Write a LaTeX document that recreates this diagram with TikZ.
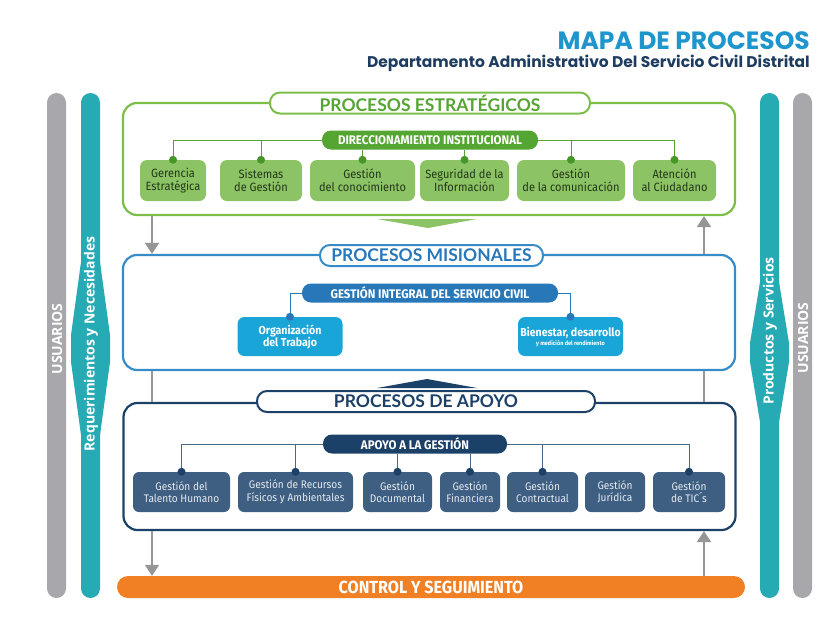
\documentclass[tikz,border=0pt]{standalone}
\usepackage{fontspec}
\setmainfont{Lato}
\newfontfamily\titlefont{Poppins}
\newfontfamily\condfont{Fira Sans}[FakeStretch=0.92]
\newfontfamily\sidefont{Open Sans}
\usetikzlibrary{positioning,arrows.meta}

\definecolor{titleblue}{RGB}{30,150,205}
\definecolor{titlenavy}{RGB}{30,60,95}
\definecolor{estline}{RGB}{125,190,75}
\definecolor{estdark}{RGB}{85,165,50}
\definecolor{estdot}{RGB}{70,150,40}
\definecolor{estfill}{RGB}{140,195,100}
\definecolor{esttext}{RGB}{35,55,25}
\definecolor{misline}{RGB}{55,140,200}
\definecolor{misdark}{RGB}{40,120,185}
\definecolor{misfill}{RGB}{25,165,215}
\definecolor{apline}{RGB}{28,65,105}
\definecolor{apfill}{RGB}{62,95,130}
\definecolor{aptext}{RGB}{228,233,238}
\definecolor{sidegray}{RGB}{168,168,172}
\definecolor{sideteal}{RGB}{38,170,180}
\definecolor{ctrlorange}{RGB}{240,128,35}
\definecolor{flowgray}{RGB}{150,150,150}

\tikzset{
  procframe/.style={draw, line width=2.2pt, rounded corners=14pt, minimum width=612pt},
  proctab/.style={draw, fill=white, line width=2pt, rounded corners=10pt, minimum height=21pt, inner sep=0pt},
  headpill/.style={rounded corners=9pt, minimum height=19pt, inner sep=0pt, text=white, font=\condfont\bfseries\fontsize{12.5}{13}\selectfont},
  estbox/.style={fill=estfill, rounded corners=7pt, minimum height=41pt, inner sep=1pt, align=center, text=esttext, font=\condfont\fontsize{12}{13}\selectfont},
  misbox/.style={fill=misfill, rounded corners=7pt, minimum width=105pt, minimum height=39pt, inner sep=1pt, align=center, text=white, font=\condfont\bfseries\fontsize{11.5}{12}\selectfont},
  apbox/.style={fill=apfill, rounded corners=6pt, minimum height=40pt, inner sep=1pt, align=center, text=aptext, font=\condfont\fontsize{11}{12.5}\selectfont},
  flow/.style={draw=flowgray, line width=2pt},
  flowarrow/.style={flow, -{Triangle[width=14pt,length=11pt]}},
  sidetext/.style={rotate=90, text=white, inner sep=0pt, font=\sidefont\bfseries\fontsize{14}{14}\selectfont},
}

\begin{document}
\begin{tikzpicture}[x=1pt, y=-1pt]
    \useasboundingbox (0,0) rectangle (830,627);

    % title
    \node[anchor=base east, inner sep=0pt, text=titleblue, font=\titlefont\bfseries\fontsize{25}{25}\selectfont] at (810,49)(title){MAPA DE PROCESOS};
    \node[anchor=base east, inner sep=0pt, text=titlenavy, font=\titlefont\bfseries\fontsize{15.5}{15.5}\selectfont] at (810,67)(subtitle){Departamento Administrativo Del Servicio Civil Distrital};

    % side bars
    \fill[sidegray, rounded corners=9.5pt] (47,93) rectangle (66,598);
    \fill[sideteal, rounded corners=9.5pt] (81,93) rectangle (100,598);
    \fill[sideteal] (81,262) -- (71,335) -- (71,362) -- (81,435) -- (100,435) -- (110,362) -- (110,335) -- (100,262) -- cycle;
    \fill[sideteal, rounded corners=9.5pt] (760,93) rectangle (779,598);
    \fill[sideteal] (760,282) -- (750,343) -- (750,362) -- (760,422) -- (779,422) -- (789,362) -- (789,343) -- (779,282) -- cycle;
    \fill[sidegray, rounded corners=9.5pt] (793,93) rectangle (812,598);
    \node[sidetext] at (57,339)(usul){USUARIOS};
    \node[sidetext] at (91,344)(reqnec){Requerimientos y Necesidades};
    \node[sidetext] at (770,331)(prodserv){Productos y Servicios};
    \node[sidetext] at (803,338)(usur){USUARIOS};

    % frames
    \node[procframe, draw=estline, minimum height=112pt] at (429,159)(estrat){};
    \node[procframe, draw=misline, minimum height=115pt] at (429,312.5)(mision){};
    \node[procframe, draw=apline, minimum height=127pt] at (429.5,466.5)(apoyo){};
    \fill[estfill] (377,219) -- (477,219) -- (428,228) -- cycle;
    \fill[apline] (377,388) -- (477,388) -- (427,379) -- cycle;

    \node[proctab, draw=estline, text=estdark, minimum width=320pt, font=\bfseries\fontsize{17.5}{17.5}\selectfont] at (430,103)(esttab){PROCESOS ESTRATÉGICOS};
    \node[proctab, draw=misline, text=misdark, minimum width=223pt, font=\bfseries\fontsize{17.5}{17.5}\selectfont] at (431.5,255.5)(mistab){PROCESOS MISIONALES};
    \node[proctab, draw=apline, text=apline, minimum width=338pt, font=\bfseries\fontsize{17.5}{17.5}\selectfont] at (426,401.5)(aptab){PROCESOS DE APOYO};

    % estrategicos
    \node[headpill, fill=estdark, minimum width=216pt] at (430,140)(direc){DIRECCIONAMIENTO INSTITUCIONAL};
    \node[estbox, minimum width=66pt] at (173,180.5)(gerencia){Gerencia\\Estratégica};
    \node[estbox, minimum width=82pt] at (261,180.5)(sistemas){Sistemas\\de Gestión};
    \node[estbox, minimum width=105pt] at (362.5,180.5)(conoc){Gestión\\del conocimiento};
    \node[estbox, minimum width=89pt] at (464.5,180.5)(segur){Seguridad de la\\Información};
    \node[estbox, minimum width=108pt] at (571,180.5)(comunic){Gestión\\de la comunicación};
    \node[estbox, minimum width=83pt] at (674.5,180.5)(atencion){Atención\\al Ciudadano};

    \draw[estdark, line width=1pt] (direc.west) -| (gerencia.north);
    \draw[estdark, line width=1pt] (direc.east) -| (atencion.north);
    \draw[estdark, line width=1pt] (sistemas.north) -- (sistemas.north |- direc.center);
    \draw[estdark, line width=1pt] (conoc.north) -- (conoc.north |- direc.south);
    \draw[estdark, line width=1pt] (segur.north) -- (segur.north |- direc.south);
    \draw[estdark, line width=1pt] (comunic.north) -- (comunic.north |- direc.center);
    \foreach \b in {gerencia,sistemas,conoc,segur,comunic,atencion}
        \fill[estdot] (\b.north) circle (4pt);

    % misionales
    \node[headpill, fill=misdark, minimum width=256pt] at (430,293)(gestint){GESTIÓN INTEGRAL DEL SERVICIO CIVIL};
    \node[misbox] at (290,336.5)(organiz){Organización\\del Trabajo};
    \node[misbox] at (570.5,336.5)(bienestar){Bienestar, desarrollo\\[-3pt]{\fontsize{6}{7}\selectfont y medición del rendimiento}};
    \draw[misdark, line width=1pt] (gestint.west) -| (organiz.north);
    \draw[misdark, line width=1pt] (gestint.east) -| (bienestar.north);
    \fill[misdark] (organiz.north) circle (4pt);
    \fill[misdark] (bienestar.north) circle (4pt);

    % apoyo
    \node[headpill, fill=apline, minimum width=184pt] at (415,444)(apgest){APOYO A LA GESTIÓN};
    \node[apbox, minimum width=97pt] at (181.5,492)(talento){Gestión del\\Talento Humano};
    \node[apbox, minimum width=115pt] at (295.5,492)(recursos){Gestión de Recursos\\Físicos y Ambientales};
    \node[apbox, minimum width=69pt] at (397.5,492)(document){Gestión\\Documental};
    \node[apbox, minimum width=60pt] at (470,492)(financ){Gestión\\Financiera};
    \node[apbox, minimum width=71pt] at (542.5,492)(contract){Gestión\\Contractual};
    \node[apbox, minimum width=60pt] at (615,492)(juridica){Gestión\\Jurídica};
    \node[apbox, minimum width=72pt] at (689,492)(tics){Gestión\\de TIC´s};

    \draw[apline!80, line width=1pt] (apgest.west) -| (talento.north);
    \draw[apline!80, line width=1pt] (apgest.east) -| (tics.north);
    \draw[apline!80, line width=1pt] (recursos.north) -- (recursos.north |- apgest.center);
    \draw[apline!80, line width=1pt] (document.north) -- (document.north |- apgest.south);
    \draw[apline!80, line width=1pt] (financ.north) -- (financ.north |- apgest.south);
    \draw[apline!80, line width=1pt] (contract.north) -- (contract.north |- apgest.center);
    \foreach \b in {talento,recursos,document,financ,contract,tics}
        \fill[apline] (\b.north) circle (4pt);

    % control
    \node[fill=ctrlorange, rounded corners=11pt, minimum width=628pt, minimum height=22pt, text=white, font=\condfont\bfseries\fontsize{17.5}{17.5}\selectfont] at (431,587)(control){CONTROL Y SEGUIMIENTO};

    % flows
    \coordinate (lanel) at (152,0);
    \coordinate (laner) at (704,0);
    \draw[flowarrow] (estrat.south -| lanel) -- (mision.north -| lanel);
    \draw[flowarrow] (apoyo.south -| lanel) -- (control.north -| lanel);
    \draw[flowarrow] (mision.north -| laner) -- (estrat.south -| laner);
    \draw[flowarrow] (control.north -| laner) -- (apoyo.south -| laner);
    \draw[flow] (mision.south -| lanel) -- (apoyo.north -| lanel);
    \draw[flow] (mision.south -| laner) -- (apoyo.north -| laner);
\end{tikzpicture}
\end{document}
